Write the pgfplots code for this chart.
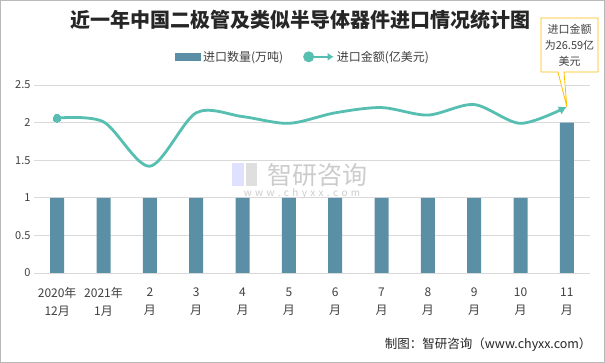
\documentclass[border=0pt]{standalone}
\usepackage{fontspec}
\setmainfont{Noto Sans CJK SC}
\usepackage{pgfplots}
\pgfplotsset{compat=1.18}
\usetikzlibrary{arrows.meta}
\definecolor{barc}{HTML}{5B8FA6}
\definecolor{linec}{HTML}{56BFB2}
\definecolor{gridc}{HTML}{D9D9D9}
\definecolor{callc}{HTML}{FFC000}
\definecolor{txt}{HTML}{404040}
\begin{document}
\begin{tikzpicture}
\useasboundingbox (0pt,0pt) rectangle (605pt,363pt);
\fill[white] (0pt,0pt) rectangle (605pt,363pt);
\draw[gray!55, line width=1.2pt] (0.6pt,0.6pt) rectangle (604.4pt,362.4pt);
% title
\node[font=\fontsize{20}{24}\selectfont\bfseries, text=black!85] at (300pt,343pt) {近一年中国二极管及类似半导体器件进口情况统计图};
% watermark
\fill[blue!12] (232pt,177pt) rectangle (244pt,200pt);
\fill[gray!25] (246pt,177pt) rectangle (257pt,200pt);
\node[font=\fontsize{25}{28}\selectfont, text=gray!40] at (317pt,188pt) {智研咨询};
\node[font=\fontsize{10}{12}\selectfont, text=gray!40] at (302pt,169pt) {w\,\,w\,\,w\,\,.\,\,c\,\,h\,\,y\,\,x\,\,x\,\,.\,\,c\,\,o\,\,m};
\begin{axis}[
  at={(34pt,90pt)}, anchor=south west, scale only axis,
  width=556pt, height=188pt,
  xmin=-0.5, xmax=11.5, ymin=0, ymax=2.5,
  ytick={0,0.5,1,1.5,2,2.5},
  xtick={0,1,2,3,4,5,6,7,8,9,10,11},
  xticklabels={{2020年\\12月},{2021年\\1月},{2\\月},{3\\月},{4\\月},{5\\月},{6\\月},{7\\月},{8\\月},{9\\月},{10\\月},{11\\月}},
  xticklabel style={align=center, font=\fontsize{12}{18}\selectfont, text=txt, yshift=-11pt},
  yticklabel style={font=\fontsize{11}{13}\selectfont, text=txt},
  /pgf/number format/assume math mode=true,
  major tick length=0pt,
  ymajorgrids, grid style={gridc, line width=0.8pt},
  axis line style={draw=none},
  clip=false,
  legend columns=2,
  legend style={draw=none, fill=none, at={(0.484,1.15)}, anchor=center,
    font=\fontsize{12}{14}\selectfont, text=txt,
    /tikz/every even column/.append style={column sep=18pt}},
]
\addplot[ybar, bar width=14pt, fill=barc, draw=none,
  legend image code/.code={\fill[barc] (0pt,-4pt) rectangle (26pt,4pt);}]
  coordinates {(0,1) (1,1) (2,1) (3,1) (4,1) (5,1) (6,1) (7,1) (8,1) (9,1) (10,1) (11,2)};
\addlegendentry{进口数量(万吨)}
\addplot[smooth, color=linec, line width=2.8pt, -{Latex[length=8pt,width=9pt]},
  mark=*, mark indices={1}, mark size=4pt, mark options={fill=linec, draw=linec, line width=0pt},
  legend image code/.code={\draw[linec, line width=2.5pt, -{Latex[length=6pt,width=8pt]}] (0pt,0pt) -- (28pt,0pt); \fill[linec] (3pt,0pt) circle (4pt);}]
  coordinates {(0,2.06) (1,2.01) (2,1.42) (3,2.13) (4,2.08) (5,1.99) (6,2.13) (7,2.20) (8,2.10) (9,2.24) (10,1.99) (11,2.21)};
\addlegendentry{进口金额(亿美元)}
\coordinate (tip) at (axis cs:11,2.21);
\end{axis}
% callout
\draw[callc, fill=white, line width=0.8pt, line join=miter] (541pt,291pt) -- (558pt,291pt) -- (tip) -- (564pt,291pt) -- (598pt,291pt) -- (598pt,345pt) -- (541pt,345pt) -- cycle;
\node[font=\fontsize{11}{16}\selectfont, text=txt, align=center] at (569.5pt,318pt) {进口金额\\为26.59亿\\美元};
% footer
\node[font=\fontsize{12.5}{14}\selectfont, text=black!85, anchor=east] at (595pt,18pt) {制图：智研咨询（www.chyxx.com）};
\end{tikzpicture}
\end{document}
